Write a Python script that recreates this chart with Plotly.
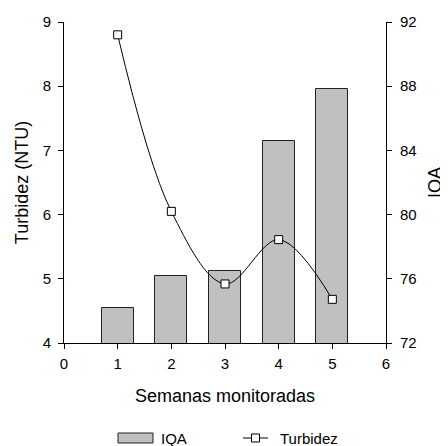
import plotly.graph_objects as go

semanas = [1, 2, 3, 4, 5]
iqa = [74.15, 76.15, 76.5, 84.6, 87.85]
turbidez = [8.8, 6.05, 4.92, 5.61, 4.68]
x_ticks = [0, 1, 2, 3, 4, 5, 6]
turb_ticks = [4, 5, 6, 7, 8, 9]
iqa_ticks = [72, 76, 80, 84, 88, 92]

FONT = "Arial, Liberation Sans, sans-serif"

fig = go.Figure()
fig.add_trace(go.Bar(
    x=semanas, y=iqa, name="IQA", width=0.6, yaxis="y",
    marker=dict(color="#c0c0c0", line=dict(color="#222222", width=1)),
    showlegend=False,
))
fig.add_trace(go.Scatter(
    x=semanas, y=turbidez, name="Turbidez", yaxis="y2",
    mode="lines+markers",
    line=dict(color="black", width=1, shape="spline", smoothing=1),
    marker=dict(symbol="square", size=8, color="white", line=dict(color="black", width=1)),
    showlegend=False,
))

axis_common = dict(
    showgrid=False, zeroline=False, showline=True, linecolor="black", linewidth=1,
    ticks="outside", ticklen=5, tickcolor="black", tickwidth=1,
    tickfont=dict(family=FONT, size=15, color="black"),
)

# page body has an 8px margin: figure is 440x438 placed at (8, 8)
fig.update_layout(
    width=440, height=438,
    margin=dict(l=56, r=62, t=14, b=103, autoexpand=False),
    paper_bgcolor="white", plot_bgcolor="white",
    font=dict(family=FONT, color="black"),
    xaxis=dict(range=[0, 6], tickvals=x_ticks, ticklabelstandoff=2, **axis_common,
               title=dict(text="Semanas monitoradas", font=dict(size=18), standoff=18)),
    yaxis=dict(range=[72, 92], tickvals=iqa_ticks, side="right", ticklabelstandoff=5, **axis_common,
               title=dict(text="IQA", font=dict(size=18), standoff=12)),
    yaxis2=dict(range=[4, 9], tickvals=turb_ticks, side="left", overlaying="y",
                ticklabelstandoff=4, **axis_common,
                title=dict(text="Turbidez (NTU)", font=dict(size=18), standoff=9)),
    showlegend=False,
    bargap=0,
)

# manual legend (paper coords relative to plot area at window x 64..386, y 22..343)
def px(xw):
    return (xw - 64) / 322

def py(yw):
    return (343 - yw) / 321

fig.add_shape(type="rect", xref="paper", yref="paper",
              x0=px(118), x1=px(153), y0=py(443), y1=py(433),
              fillcolor="#c0c0c0", line=dict(color="#222222", width=1))
fig.add_annotation(xref="paper", yref="paper", x=px(159), y=py(438),
                   text="IQA", showarrow=False, xanchor="left", yanchor="middle",
                   font=dict(family=FONT, size=15, color="black"))
fig.add_shape(type="line", xref="paper", yref="paper",
              x0=px(243), x1=px(268), y0=py(438), y1=py(438),
              line=dict(color="black", width=1))
fig.add_shape(type="rect", xref="paper", yref="paper",
              x0=px(251.5), x1=px(259.5), y0=py(442), y1=py(434),
              fillcolor="white", line=dict(color="black", width=1))
fig.add_annotation(xref="paper", yref="paper", x=px(278), y=py(438),
                   text="Turbidez", showarrow=False, xanchor="left", yanchor="middle",
                   font=dict(family=FONT, size=15, color="black"))

fig.write_html("out.html")
